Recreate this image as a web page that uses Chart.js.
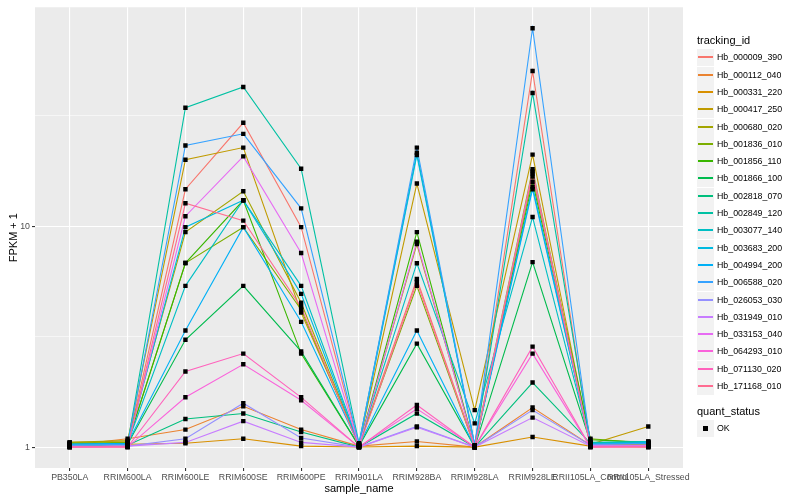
<!DOCTYPE html>
<html>
<head>
<meta charset="utf-8">
<script src="https://cdn.jsdelivr.net/npm/chart.js@4.4.1/dist/chart.umd.min.js"></script>
<style>
  body { margin: 0; background: #fff; font-family: "Liberation Sans", Arial, sans-serif; }
  #wrap { position: relative; width: 800px; height: 500px; }
  #legend { position: absolute; left: 0; top: 0; width: 800px; height: 500px; pointer-events: none; }
  .ttl { position: absolute; left: 697px; font-size: 11px; color: #000; line-height: 12px; }
  .key { position: absolute; left: 697px; width: 17px; height: 17px; background: #F2F2F2; }
  .key i { position: absolute; left: 1px; top: 7px; width: 15px; height: 2px; }
  .key b { position: absolute; left: 6px; top: 6px; width: 5px; height: 5px; background: #000; }
  .lbl { position: absolute; left: 717px; font-size: 8.8px; color: #000; line-height: 10px; }
</style>
</head>
<body>
<div id="wrap">
  <canvas id="grafica" width="800" height="500"></canvas>
  <div id="legend"></div>
</div>
<script>
// categorias del eje x
const samples = ['PB350LA', 'RRIM600LA', 'RRIM600LE', 'RRIM600SE', 'RRIM600PE', 'RRIM901LA',
                 'RRIM928BA', 'RRIM928LA', 'RRIM928LE', 'RRII105LA_Control', 'RRII105LA_Stressed'];

const trackingIds = ['Hb_000009_390', 'Hb_000112_040', 'Hb_000331_220', 'Hb_000417_250', 'Hb_000680_020',
                     'Hb_001836_010', 'Hb_001856_110', 'Hb_001866_100', 'Hb_002818_070', 'Hb_002849_120',
                     'Hb_003077_140', 'Hb_003683_200', 'Hb_004994_200', 'Hb_006588_020', 'Hb_026053_030',
                     'Hb_031949_010', 'Hb_033153_040', 'Hb_064293_010', 'Hb_071130_020', 'Hb_171168_010'];

const seriesColors = ['#F8766D', '#EA8331', '#D89000', '#C09B00', '#A3A500', '#7CAE00', '#39B600', '#00BB4E',
                      '#00BF7D', '#00C1A3', '#00BFC4', '#00BAE0', '#00B0F6', '#35A2FF', '#9590FF', '#C77CFF',
                      '#E76BF3', '#FA62DB', '#FF62BC', '#FF6C91'];

// FPKM + 1 por muestra (mismo orden que samples)
const hb000009_390 = [1.01, 1.03, 14.7, 29.4, 9.9, 1.02, 5.77, 1.01, 50.4, 1.01, 1.02];
const hb000112_040 = [1.02, 1.09, 1.20, 1.53, 1.20, 1.01, 1.06, 1.00, 1.51, 1.02, 1.03];
const hb000331_220 = [1.045, 1.03, 1.04, 1.09, 1.01, 1.00, 1.01, 1.00, 1.11, 1.01, 1.00];
const hb000417_250 = [1.05, 1.06, 20.0, 22.7, 4.06, 1.03, 15.6, 1.47, 21.1, 1.03, 1.24];
const hb000680_020 = [1.05, 1.07, 9.4, 14.4, 4.5, 1.02, 8.3, 1.01, 18.1, 1.02, 1.03];
const hb001836_010 = [1.04, 1.05, 6.81, 9.9, 4.19, 1.02, 5.37, 1.00, 16.8, 1.09, 1.04];
const hb001856_110 = [1.03, 1.04, 6.81, 13.1, 2.65, 1.01, 9.4, 1.00, 15.9, 1.08, 1.05];
const hb001866_100 = [1.02, 1.03, 3.06, 5.37, 2.71, 1.01, 2.94, 1.00, 6.88, 1.05, 1.04];
const hb002818_070 = [1.02, 1.02, 1.34, 1.42, 1.17, 1.00, 1.42, 1.00, 1.96, 1.04, 1.05];
const hb002849_120 = [1.02, 1.03, 34.4, 42.7, 18.2, 1.04, 21.5, 1.02, 40.1, 1.05, 1.06];
const hb003077_140 = [1.03, 1.04, 5.37, 13.1, 5.37, 1.03, 6.8, 1.28, 11.0, 1.04, 1.06];
const hb003683_200 = [1.03, 1.03, 9.9, 13.1, 4.94, 1.02, 21.0, 1.01, 15.1, 1.03, 1.05];
const hb004994_200 = [1.03, 1.04, 3.37, 9.9, 3.69, 1.02, 3.37, 1.00, 14.7, 1.03, 1.04];
const hb006588_020 = [1.02, 1.03, 23.2, 26.2, 12.05, 1.03, 22.7, 1.02, 78.8, 1.03, 1.04];
const hb026053_030 = [1.01, 1.01, 1.09, 1.58, 1.10, 1.00, 1.24, 1.00, 1.47, 1.02, 1.02];
const hb031949_010 = [1.00, 1.01, 1.05, 1.31, 1.05, 1.00, 1.23, 1.00, 1.36, 1.01, 1.01];
const hb033153_040 = [1.00, 1.01, 11.1, 20.7, 7.56, 1.01, 8.5, 1.00, 17.7, 1.01, 1.01];
const hb064293_010 = [1.00, 1.00, 1.68, 2.37, 1.63, 1.00, 1.49, 1.00, 2.65, 1.00, 1.01];
const hb071130_020 = [1.00, 1.00, 2.20, 2.65, 1.68, 1.00, 1.55, 1.00, 2.85, 1.00, 1.00];
const hb171168_010 = [1.00, 1.00, 12.7, 10.6, 4.3, 1.00, 5.6, 1.00, 17.3, 1.00, 1.00];

const fpkmRows = [hb000009_390, hb000112_040, hb000331_220, hb000417_250, hb000680_020,
                  hb001836_010, hb001856_110, hb001866_100, hb002818_070, hb002849_120,
                  hb003077_140, hb003683_200, hb004994_200, hb006588_020, hb026053_030,
                  hb031949_010, hb033153_040, hb064293_010, hb071130_020, hb171168_010];

const yTicks = [1, 10];
const yMinorTicks = [3.1623, 31.623];

document.addEventListener('DOMContentLoaded', function () {
    // order: la ultima serie queda encima, como en ggplot
    const datasets = fpkmRows.map(function (row, s) {
        return {
            label: trackingIds[s],
            data: row.map(function (v, i) { return { x: i, y: v }; }),
            borderColor: seriesColors[s],
            borderWidth: 1.1,
            pointRadius: 0,
            tension: 0,
            fill: false,
            order: fpkmRows.length - s
        };
    });

    // todos los puntos (quant_status = OK) encima de las lineas
    const puntos = [];
    fpkmRows.forEach(function (row) {
        row.forEach(function (v, i) { puntos.push({ x: i, y: v }); });
    });
    datasets.push({
        type: 'scatter',
        label: 'OK',
        data: puntos,
        pointStyle: 'rect',
        pointRadius: 3.1,
        backgroundColor: '#000',
        borderColor: '#000',
        borderWidth: 0,
        showLine: false,
        order: 0
    });

    const panelFondo = {
        id: 'panelFondo',
        beforeDraw: function (chart) {
            const a = chart.chartArea;
            const c = chart.ctx;
            c.save();
            c.fillStyle = '#EBEBEB';
            c.fillRect(a.left, a.top, a.right - a.left, a.bottom - a.top);
            c.restore();
        }
    };

    const esMayor = function (ctx) {
        return ctx.tick && yTicks.indexOf(ctx.tick.value) >= 0;
    };

    Chart.defaults.font.family = '"Liberation Sans", Arial, sans-serif';

    new Chart(document.getElementById('grafica').getContext('2d'), {
        type: 'line',
        data: { datasets: datasets },
        plugins: [panelFondo],
        options: {
            responsive: false,
            animation: false,
            layout: { padding: { left: 0, top: 5, right: 117, bottom: 0 } },
            plugins: { legend: { display: false }, tooltip: { enabled: false } },
            scales: {
                x: {
                    type: 'linear',
                    min: -0.6,
                    max: samples.length - 1 + 0.6,
                    afterBuildTicks: function (scale) {
                        scale.ticks = samples.map(function (_, i) { return { value: i }; });
                    },
                    afterFit: function (scale) { scale.height = 32; },
                    ticks: {
                        autoSkip: false,
                        maxRotation: 0,
                        minRotation: 0,
                        padding: 1,
                        color: '#4D4D4D',
                        font: { size: 8.8 },
                        callback: function (v) { return samples[Math.round(v)]; }
                    },
                    grid: { color: '#FFFFFF', lineWidth: 1.1, tickLength: 3, tickColor: '#333333' },
                    border: { display: false },
                    title: { display: true, text: 'sample_name', color: '#000', font: { size: 11 }, padding: { top: 0, bottom: 4 } }
                },
                y: {
                    type: 'logarithmic',
                    min: 0.804,
                    max: 98,
                    afterBuildTicks: function (scale) {
                        scale.ticks = yTicks.concat(yMinorTicks).sort(function (a, b) { return a - b; })
                            .map(function (v) { return { value: v }; });
                    },
                    afterFit: function (scale) { scale.width = 35; },
                    ticks: {
                        padding: 2,
                        color: '#4D4D4D',
                        font: { size: 8.8 },
                        callback: function (v) { return yTicks.indexOf(v) >= 0 ? String(v) : ''; }
                    },
                    grid: {
                        color: '#FFFFFF',
                        lineWidth: function (ctx) { return esMayor(ctx) ? 1.1 : 0.55; },
                        tickLength: 3,
                        tickColor: function (ctx) { return esMayor(ctx) ? '#333333' : 'rgba(0,0,0,0)'; }
                    },
                    border: { display: false },
                    title: { display: true, text: 'FPKM + 1', color: '#000', font: { size: 11 }, padding: { top: 7, bottom: 0 } }
                }
            }
        }
    });

    // leyenda estilo ggplot
    const leyenda = document.getElementById('legend');
    let html = '<div class="ttl" style="top:34px">tracking_id</div>';
    trackingIds.forEach(function (id, s) {
        const cy = Math.round(57.3 + s * 17.3);
        html += '<div class="key" style="top:' + (cy - 8) + 'px"><i style="background:' + seriesColors[s] + '"></i></div>';
        html += '<div class="lbl" style="top:' + (cy - 5) + 'px">' + id + '</div>';
    });
    html += '<div class="ttl" style="top:405px">quant_status</div>';
    html += '<div class="key" style="top:420px"><b></b></div>';
    html += '<div class="lbl" style="top:423px">OK</div>';
    leyenda.innerHTML = html;
});
</script>
</body>
</html>
